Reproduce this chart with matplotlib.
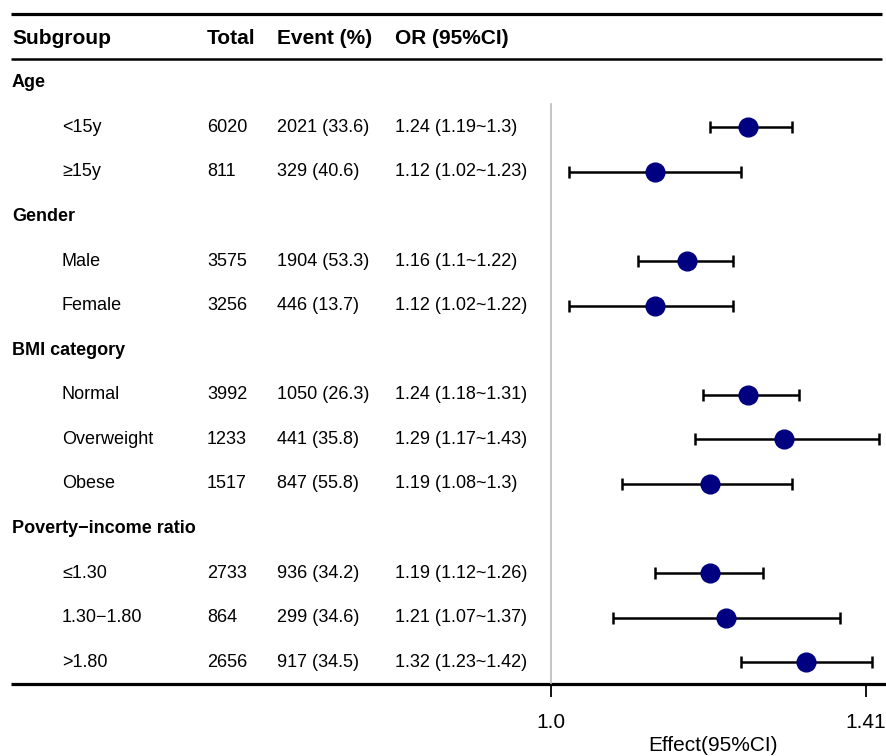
import matplotlib
matplotlib.use("Agg")
import matplotlib.pyplot as plt
import numpy as np

plt.rcParams['font.family'] = ['Liberation Sans', 'DejaVu Sans']

# table rows (group rows have no numbers)
labels = ["Age", "<15y", "≥15y", "Gender", "Male", "Female", "BMI category",
          "Normal", "Overweight", "Obese", "Poverty\u2212income ratio",
          "≤1.30", "1.30\u22121.80", ">1.80"]
is_group = [True, False, False, True, False, False, True,
            False, False, False, True, False, False, False]
total = ["", "6020", "811", "", "3575", "3256", "", "3992", "1233", "1517",
         "", "2733", "864", "2656"]
event = ["", "2021 (33.6)", "329 (40.6)", "", "1904 (53.3)", "446 (13.7)", "",
         "1050 (26.3)", "441 (35.8)", "847 (55.8)", "", "936 (34.2)",
         "299 (34.6)", "917 (34.5)"]
or_est = [np.nan, 1.24, 1.12, np.nan, 1.16, 1.12, np.nan, 1.24, 1.29, 1.19,
          np.nan, 1.19, 1.21, 1.32]
or_lo = [np.nan, 1.19, 1.02, np.nan, 1.10, 1.02, np.nan, 1.18, 1.17, 1.08,
         np.nan, 1.12, 1.07, 1.23]
or_hi = [np.nan, 1.30, 1.23, np.nan, 1.22, 1.22, np.nan, 1.31, 1.43, 1.30,
         np.nan, 1.26, 1.37, 1.42]
or_txt = ["", "1.24 (1.19~1.3)", "1.12 (1.02~1.23)", "", "1.16 (1.1~1.22)",
          "1.12 (1.02~1.22)", "", "1.24 (1.18~1.31)", "1.29 (1.17~1.43)",
          "1.19 (1.08~1.3)", "", "1.19 (1.12~1.26)", "1.21 (1.07~1.37)",
          "1.32 (1.23~1.42)"]
headers = ["Subgroup", "Total", "Event (%)", "OR (95%CI)"]
xticks = [1.0, 1.41]
xticklabels = ["1.0", "1.41"]

W, H = 887, 756
fig = plt.figure(figsize=(W / 100, H / 100), dpi=100)

# text layer in pixel coordinates
tab = fig.add_axes([0, 0, 1, 1])
tab.set_xlim(0, W)
tab.set_ylim(H, 0)
tab.axis('off')

row0, dy = 38, 44.6
fs = 13
col_x = [12, 207, 277, 395]
for x, h in zip(col_x, headers):
    tab.text(x, row0, h, fontsize=15, fontweight='bold', va='center')

for i, lab in enumerate(labels):
    y = row0 + dy * (i + 1)
    if is_group[i]:
        tab.text(12, y, lab, fontsize=13, fontweight='bold', va='center')
    else:
        tab.text(62, y, lab, fontsize=fs, va='center')
        tab.text(col_x[1], y, total[i], fontsize=fs, va='center')
        tab.text(col_x[2], y, event[i], fontsize=fs, va='center')
        tab.text(col_x[3], y, or_txt[i], fontsize=fs, va='center')

tab.plot([11, 882], [14, 14], color='black', lw=2.3, solid_capstyle='butt')
tab.plot([11, 882], [59, 59], color='black', lw=1.8, solid_capstyle='butt')
tab.plot([11, 887], [684, 684], color='black', lw=2.3, solid_capstyle='butt')

# forest panel, log scale: 1.0 at x=551px, 1.41 at x=866px
x_ref, x_41 = 551, 866
ppl = (x_41 - x_ref) / np.log(1.41)
left_px, right_px, bottom_px = 540, 887, 684
xmin = np.exp((left_px - x_ref) / ppl)
xmax = np.exp((right_px - x_ref) / ppl)

ax = fig.add_axes([left_px / W, 1 - bottom_px / H, (right_px - left_px) / W, bottom_px / H])
ax.set_xscale('log')
ax.set_xlim(xmin, xmax)
ax.set_ylim(bottom_px, 0)
ax.patch.set_alpha(0)
for s in ax.spines.values():
    s.set_visible(False)
ax.set_yticks([])

ax.plot([1.0, 1.0], [104, bottom_px], color='#bbbbbb', lw=1.2)

ys = [row0 + dy * (i + 1) for i in range(len(labels))]
for y, est, lo, hi in zip(ys, or_est, or_lo, or_hi):
    if np.isnan(est):
        continue
    ax.errorbar([est], [y], xerr=[[est - lo], [hi - est]], fmt='o',
                color='black', ecolor='black', elinewidth=1.8, capsize=4.3,
                capthick=1.8, markersize=13.5, markerfacecolor='#000080',
                markeredgecolor='#000080', zorder=3)

ax.xaxis.set_minor_locator(matplotlib.ticker.NullLocator())
ax.set_xticks(xticks)
ax.set_xticklabels(xticklabels, fontsize=15)
ax.tick_params(axis='x', length=9, width=1.3, pad=12)
ax.set_xlabel("Effect(95%CI)", fontsize=15, labelpad=3)

fig.savefig("out.png", dpi=100)
